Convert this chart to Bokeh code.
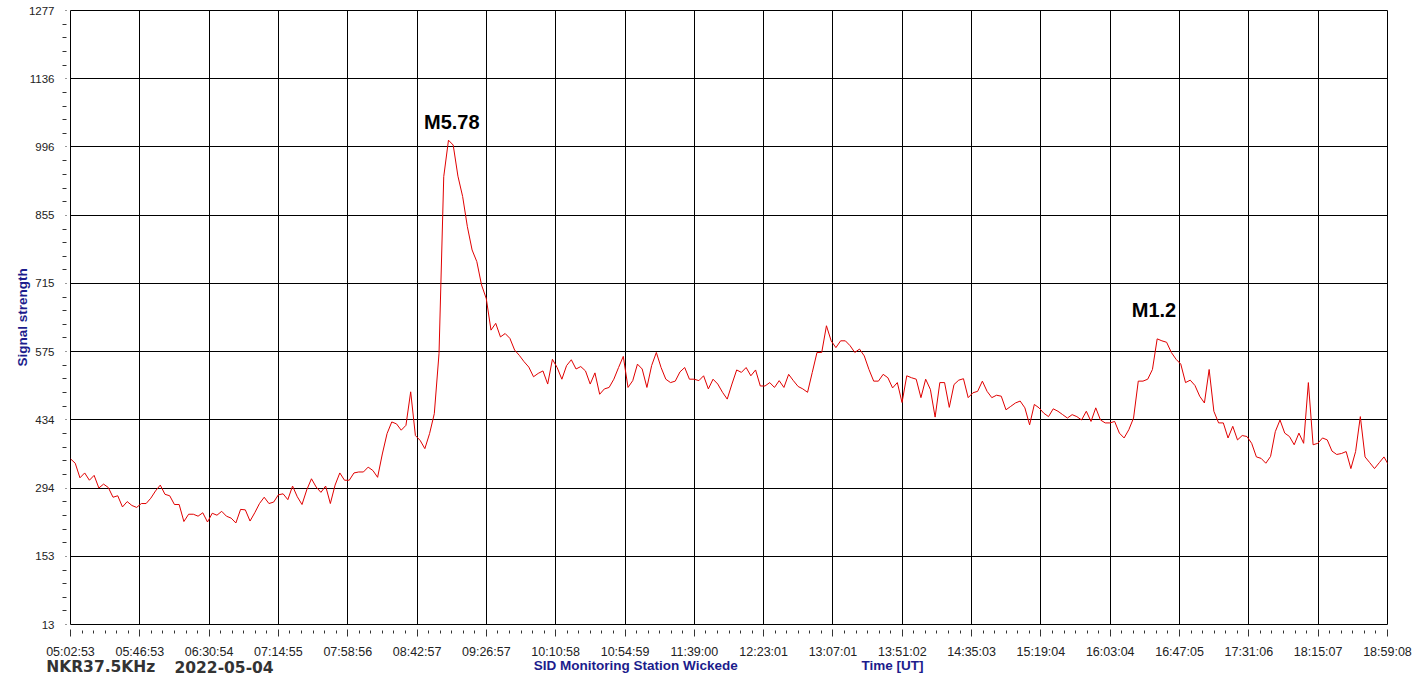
from bokeh.plotting import figure
from bokeh.models import FixedTicker, Label, Range1d
from bokeh.layouts import column
from bokeh.core.properties import value
from bokeh.embed import file_html
from bokeh.resources import INLINE

# ---- data -------------------------------------------------------------
time_labels = ["05:02:53", "05:46:53", "06:30:54", "07:14:55", "07:58:56",
               "08:42:57", "09:26:57", "10:10:58", "10:54:59", "11:39:00",
               "12:23:01", "13:07:01", "13:51:02", "14:35:03", "15:19:04",
               "16:03:04", "16:47:05", "17:31:06", "18:15:07", "18:59:08"]
y_tick_values = [13, 153, 294, 434, 575, 715, 855, 996, 1136, 1277]

sample_start = "05:02:53"
sample_step_s = 180

signal = [
    354, 345, 315, 325, 310, 320, 294, 302, 295, 275,
    278, 255, 266, 258, 254, 262, 262, 273, 288, 300,
    281, 278, 260, 260, 225, 240, 240, 236, 243, 224,
    242, 238, 246, 236, 232, 222, 250, 249, 226, 243,
    262, 275, 262, 265, 280, 282, 270, 298, 276, 260,
    290, 313, 296, 285, 298, 262, 300, 325, 310, 310,
    325, 327, 327, 337, 330, 316, 364, 406, 430, 426,
    413, 423, 492, 402, 392, 375, 406, 447, 571, 935,
    1010, 1000, 936, 894, 832, 784, 760, 712, 684, 619,
    633, 605, 612, 602, 578, 567, 554, 543, 523, 530,
    535, 508, 559, 542, 518, 546, 558, 539, 544, 535,
    508, 531, 487, 498, 501, 518, 542, 565, 501, 515,
    549, 539, 501, 546, 573, 542, 518, 511, 514, 533,
    542, 518, 518, 515, 525, 498, 518, 508, 491, 477,
    508, 537, 532, 542, 525, 537, 504, 504, 511, 501,
    515, 501, 528, 515, 503, 498, 491, 532, 573, 573,
    628, 597, 583, 597, 597, 587, 573, 580, 566, 538,
    514, 514, 528, 521, 500, 511, 470, 525, 521, 518,
    480, 518, 497, 440, 511, 511, 460, 507, 516, 519,
    480, 490, 493, 514, 493, 480, 485, 483, 455, 462,
    469, 473, 459, 424, 466, 459, 448, 441, 457, 452,
    445, 438, 445, 441, 434, 452, 431, 459, 434, 428,
    428, 431, 407, 397, 414, 438, 514, 514, 518, 538,
    601, 597, 594, 573, 559, 549, 511, 516, 505, 483,
    469, 538, 452, 428, 428, 397, 421, 393, 402, 400,
    386, 358, 355, 345, 359, 410, 434, 407, 400, 383,
    407, 386, 511, 383, 386, 397, 393, 370, 363, 365,
    369, 334, 369, 441, 358, 346, 334, 346, 358, 341,
]

flare_names = ["M5.78", "M1.2"]
flare_times = ["09:05:00", "16:30:52"]
flare_levels = [1048, 661]

footer_left = ["NKR37.5KHz", "2022-05-04"]
footer_blue = ["SID Monitoring Station Wickede", "Time [UT]"]


def to_sec(s):
    h, m, sec = map(int, s.split(":"))
    return h * 3600 + m * 60 + sec


t0 = to_sec(sample_start)
t = [t0 + i * sample_step_s for i in range(len(signal))]

x_ticks = [to_sec(s) for s in time_labels]
x_minor = []
for a, b in zip(x_ticks[:-1], x_ticks[1:]):
    x_minor += [a + k * (b - a) / 6 for k in range(1, 6)]
y_minor = []
for a, b in zip(y_tick_values[:-1], y_tick_values[1:]):
    y_minor += [a + k * (b - a) / 5 for k in range(1, 5)]

W = 1416
H_MAIN = 661
OVERLAP = 10
H_FOOT = 23 + OVERLAP
FRAME_L, FRAME_R = 70, 1387

# ---- main figure ------------------------------------------------------
p = figure(width=W, height=H_MAIN, output_backend="svg", toolbar_location=None,
           x_range=Range1d(x_ticks[0], x_ticks[-1]),
           y_range=Range1d(y_tick_values[0], y_tick_values[-1]),
           min_border_left=FRAME_L, min_border_right=W - FRAME_R,
           min_border_top=10, min_border_bottom=36)
p.frame_align = False
p.background_fill_color = "white"
p.border_fill_color = "white"
p.outline_line_color = "black"
p.outline_line_width = 1
p.outline_line_alpha = 1.0

p.xaxis.ticker = FixedTicker(ticks=x_ticks, minor_ticks=x_minor)
p.xaxis.major_label_overrides = {v: s for v, s in zip(x_ticks, time_labels)}
p.yaxis.ticker = FixedTicker(ticks=y_tick_values, minor_ticks=y_minor)
p.yaxis.major_label_overrides = {v: str(v) for v in y_tick_values}

for ax in (p.xaxis, p.yaxis):
    ax.axis_line_color = None
    ax.major_tick_line_color = "#333333"
    ax.minor_tick_line_color = "#333333"
    ax.major_label_text_font = "Liberation Sans"
    ax.major_label_text_color = "#222222"

p.xaxis.major_label_text_font_size = "12.5px"
p.yaxis.major_label_text_font_size = "11.5px"

p.xaxis.major_tick_in = -5
p.xaxis.major_tick_out = 12
p.xaxis.minor_tick_in = -6
p.xaxis.minor_tick_out = 9
p.xaxis.major_label_standoff = 8

p.yaxis.major_tick_in = -4
p.yaxis.major_tick_out = 5
p.yaxis.minor_tick_in = -4
p.yaxis.minor_tick_out = 8
p.yaxis.major_label_standoff = 8
p.yaxis.axis_label = "Signal strength"
p.yaxis.axis_label_text_font = "Liberation Sans"
p.yaxis.axis_label_text_font_size = "13.5px"
p.yaxis.axis_label_text_font_style = "bold"
p.yaxis.axis_label_text_color = "#1c1c8c"
p.yaxis.axis_label_standoff = -4

for g in (p.xgrid, p.ygrid):
    g.grid_line_color = "black"
    g.grid_line_alpha = 1.0
    g.grid_line_width = 1

p.line(t, signal, line_color="#e00000", line_width=1)

for name, tm, lv in zip(flare_names, flare_times, flare_levels):
    p.add_layout(Label(x=to_sec(tm), y=lv, text=name, text_align="center",
                       text_baseline="alphabetic", text_font="Liberation Sans",
                       text_font_size="20px", text_font_style="bold",
                       text_color="black"))

# ---- footer strip (station / date / time texts) -----------------------
# transparent strip, pulled up a little so its texts have head-room
f = figure(width=W, height=H_FOOT, output_backend="svg", toolbar_location=None,
           x_range=Range1d(0, W), y_range=Range1d(H_FOOT, 0),
           x_axis_type=None, y_axis_type=None,
           min_border_left=0, min_border_right=0,
           min_border_top=0, min_border_bottom=0)
f.frame_align = False
f.margin = (-OVERLAP, 0, 0, 0)
f.outline_line_color = None
f.background_fill_alpha = 0
f.border_fill_alpha = 0
f.xgrid.visible = False
f.ygrid.visible = False

f.text(x=[45.7, 174], y=[5.5 + OVERLAP] * 2, text=footer_left,
       text_font=value("DejaVu Sans"), text_font_size="15.5px",
       text_font_style="bold", text_color="#333333",
       text_align="left", text_baseline="alphabetic")
f.text(x=[533.3, 861], y=[3.5 + OVERLAP] * 2, text=footer_blue,
       text_font=value("Liberation Sans"), text_font_size="13.5px",
       text_font_style="bold", text_color="#1c1c8c",
       text_align="left", text_baseline="alphabetic")

layout = column(p, f, spacing=0)
open("out.html", "w").write(file_html(layout, INLINE))
